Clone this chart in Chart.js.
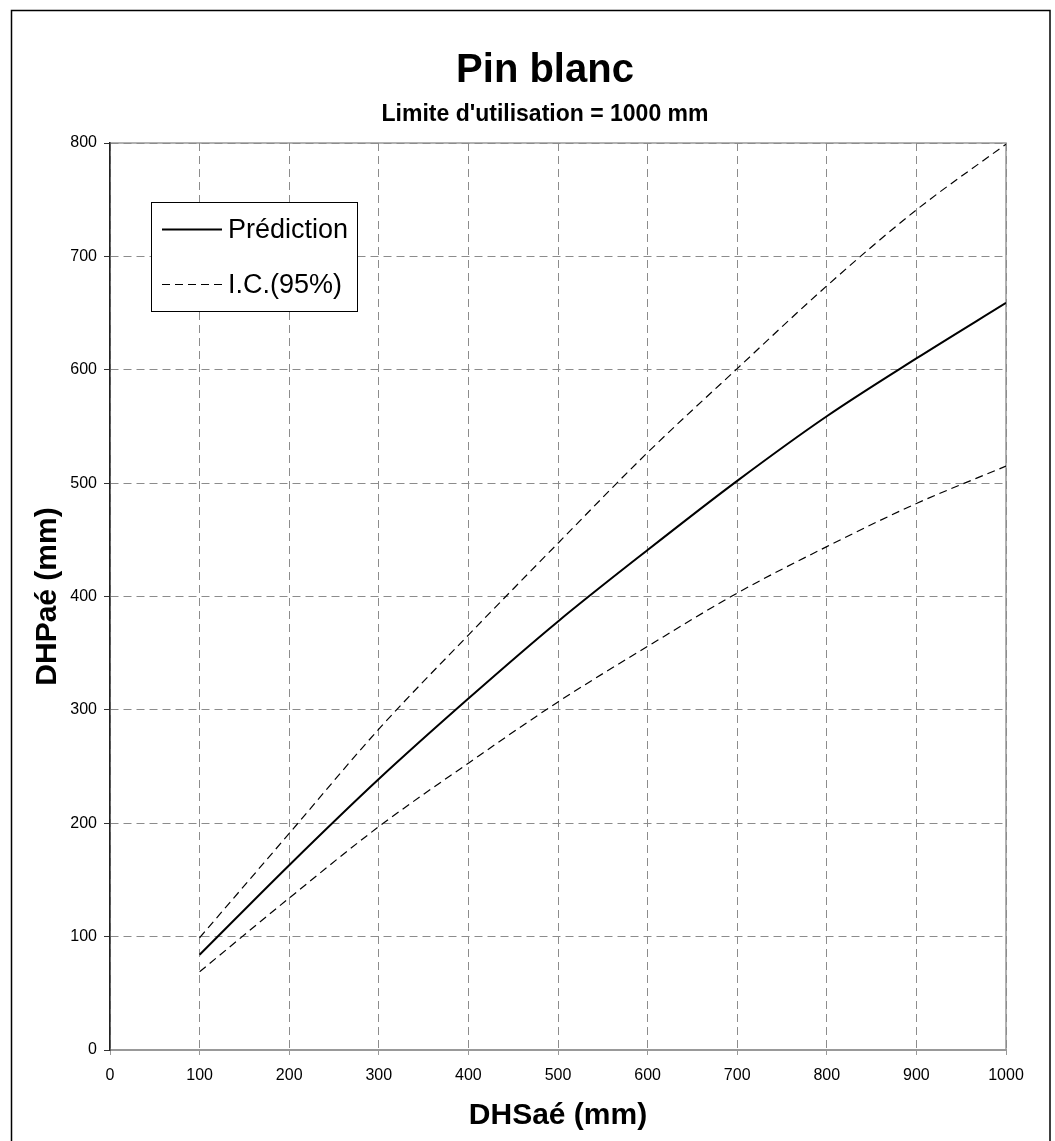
<!DOCTYPE html>
<html lang="fr">
<head>
<meta charset="utf-8">
<title>Pin blanc</title>
<script src="https://cdn.jsdelivr.net/npm/chart.js@4.4.1/dist/chart.umd.min.js"></script>
<style>
    html, body { margin: 0; padding: 0; background: #fff; overflow: hidden; }
    #graphique { display: block; }
</style>
</head>
<body>
<canvas id="graphique" width="1078" height="1141"></canvas>
<script>
    // DHSaé (mm) -> DHPaé (mm), pin blanc
    const dhs = [100, 200, 300, 400, 500, 600, 700, 800, 900, 1000];
    const prediction = [84, 163, 239, 310, 378, 441, 502, 559, 610, 659];
    const ic_haut = [99, 191, 283, 366, 447, 527, 601, 674, 741, 799];
    const ic_bas = [69, 134, 197, 253, 307, 356, 403, 444, 482, 515];
    const legende_items = [0, 1];

    const police = 'Arial, "Liberation Sans", Helvetica, sans-serif';
    Chart.defaults.font.family = police;
    Chart.defaults.color = '#000';

    function points(valeurs) {
        return dhs.map((x, i) => ({ x: x, y: valeurs[i] }));
    }

    // fond blanc, cadre extérieur et contour gris de la zone de tracé
    const cadre = {
        id: 'cadre',
        beforeDraw(chart) {
            const ctx = chart.ctx;
            const a = chart.chartArea;
            ctx.save();
            ctx.fillStyle = '#fff';
            ctx.fillRect(0, 0, chart.width, chart.height);
            ctx.strokeStyle = '#000';
            ctx.lineWidth = 1.5;
            ctx.strokeRect(11.5, 10.5, 1038.5, chart.height + 20);
            ctx.strokeStyle = '#999';
            ctx.lineWidth = 1.5;
            ctx.strokeRect(a.left, a.top, a.right - a.left, a.bottom - a.top);
            ctx.restore();
        }
    };

    // légende encadrée dans le coin haut gauche du graphique
    const legende = {
        id: 'legende',
        afterDatasetsDraw(chart) {
            const ctx = chart.ctx;
            const a = chart.chartArea;
            const x = a.left + 41;
            const y = a.top + 59;
            ctx.save();
            ctx.fillStyle = '#fff';
            ctx.fillRect(x, y, 206, 109);
            ctx.strokeStyle = '#000';
            ctx.lineWidth = 1;
            ctx.strokeRect(x + 0.5, y + 0.5, 206, 109);
            ctx.font = '27px ' + police;
            ctx.textBaseline = 'middle';
            ctx.fillStyle = '#000';
            legende_items.forEach((idx, k) => {
                const ds = chart.data.datasets[idx];
                const ly = y + 27.5 + k * 55;
                ctx.beginPath();
                ctx.setLineDash(ds.borderDash || []);
                ctx.lineWidth = ds.borderWidth;
                ctx.moveTo(x + 11, ly);
                ctx.lineTo(x + 71, ly);
                ctx.stroke();
                ctx.fillText(ds.label, x + 77, ly + 1);
            });
            ctx.restore();
        }
    };

    new Chart(document.getElementById('graphique'), {
        type: 'line',
        data: {
            datasets: [
                {
                    label: 'Prédiction',
                    data: points(prediction),
                    borderColor: '#000',
                    borderWidth: 2
                },
                {
                    label: 'I.C.(95%)',
                    data: points(ic_haut),
                    borderColor: '#000',
                    borderWidth: 1.2,
                    borderDash: [8, 5]
                },
                {
                    label: 'I.C.(95%)',
                    data: points(ic_bas),
                    borderColor: '#000',
                    borderWidth: 1.2,
                    borderDash: [8, 5]
                }
            ]
        },
        options: {
            responsive: false,
            animation: false,
            devicePixelRatio: 1,
            layout: { padding: { left: 12, right: 0, top: 0, bottom: 0 } },
            elements: {
                point: { radius: 0 },
                line: { cubicInterpolationMode: 'monotone' }
            },
            plugins: {
                legend: { display: false },
                tooltip: { enabled: false },
                title: {
                    display: true,
                    text: 'Pin blanc',
                    color: '#000',
                    font: { size: 40, weight: 'bold' },
                    padding: { top: 47, bottom: 6 }
                },
                subtitle: {
                    display: true,
                    text: "Limite d'utilisation = 1000 mm",
                    color: '#000',
                    font: { size: 23, weight: 'bold' },
                    padding: { top: 0, bottom: 14.4 }
                }
            },
            scales: {
                x: {
                    type: 'linear',
                    min: 0,
                    max: 1000,
                    ticks: {
                        stepSize: 100,
                        padding: 11,
                        color: '#000',
                        font: { size: 16 },
                        callback: (v) => String(v)
                    },
                    grid: { color: '#8c8c8c', lineWidth: 1, tickLength: 5, tickColor: '#999' },
                    border: { color: '#999', width: 2, dash: [8, 5] },
                    title: {
                        display: true,
                        text: 'DHSaé (mm)',
                        color: '#000',
                        font: { size: 30, weight: 'bold' },
                        padding: { top: 0, bottom: 7.5 }
                    },
                    afterFit(s) { s.height = 91; }
                },
                y: {
                    type: 'linear',
                    position: 'left',
                    min: 0,
                    max: 800,
                    ticks: {
                        stepSize: 100,
                        padding: 7,
                        color: '#000',
                        font: { size: 16 },
                        callback: (v) => String(v)
                    },
                    grid: { color: '#8c8c8c', lineWidth: 1, tickLength: 6, tickColor: '#333' },
                    border: { color: '#222', width: 1.5, dash: [8, 5] },
                    title: {
                        display: true,
                        text: 'DHPaé (mm)',
                        color: '#000',
                        font: { size: 30, weight: 'bold' },
                        padding: { top: 17.5, bottom: 0 }
                    },
                    afterFit(s) { s.width = 98; }
                },
                yr: {
                    type: 'linear',
                    position: 'right',
                    display: true,
                    grid: { display: false },
                    ticks: { display: false },
                    border: { display: false },
                    afterFit(s) { s.width = 72; }
                }
            }
        },
        plugins: [cadre, legende]
    });
</script>
</body>
</html>
